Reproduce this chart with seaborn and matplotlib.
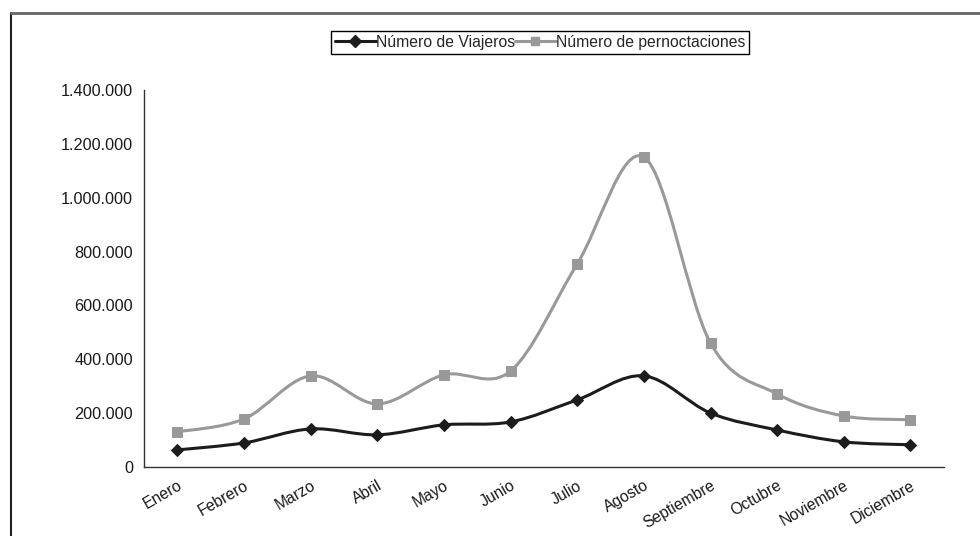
import pandas as pd
import numpy as np
import matplotlib
matplotlib.use("Agg")
import matplotlib.pyplot as plt
import seaborn as sns
from matplotlib.lines import Line2D
from matplotlib.path import Path
from matplotlib.patches import PathPatch
from matplotlib.ticker import FuncFormatter, FixedLocator

# data
meses = ["Enero", "Febrero", "Marzo", "Abril", "Mayo", "Junio", "Julio",
         "Agosto", "Septiembre", "Octubre", "Noviembre", "Diciembre"]
viajeros = [63000, 89000, 141000, 119000, 156000, 167000, 249000,
            338000, 200000, 137000, 93000, 82000]
pernoctaciones = [130000, 178000, 338000, 234000, 342000, 356000, 754000,
                  1151000, 460000, 271000, 189000, 175000]

df = pd.DataFrame({"mes": meses, "pos": range(len(meses)),
                   "viajeros": viajeros, "pernoctaciones": pernoctaciones})

sns.set_style("white")
plt.rcParams["font.family"] = ["Liberation Sans", "DejaVu Sans"]

BLACK = "#1c1c1c"
GRAY = "#999999"


def smooth_path(x, y):
    # excel style smoothed line: cubic bezier through every point
    x = np.asarray(x, float)
    y = np.asarray(y, float)
    px = np.concatenate([[x[0]], x, [x[-1]]])
    py = np.concatenate([[y[0]], y, [y[-1]]])
    verts = [(x[0], y[0])]
    codes = [Path.MOVETO]
    for i in range(1, len(px) - 2):
        c1 = (px[i] + (px[i + 1] - px[i - 1]) / 6, py[i] + (py[i + 1] - py[i - 1]) / 6)
        c2 = (px[i + 1] - (px[i + 2] - px[i]) / 6, py[i + 1] - (py[i + 2] - py[i]) / 6)
        verts += [c1, c2, (px[i + 1], py[i + 1])]
        codes += [Path.CURVE4] * 3
    return Path(verts, codes)


fig, ax = plt.subplots(figsize=(9.8, 5.36), dpi=100)
fig.subplots_adjust(left=0.147, right=0.963, top=0.832, bottom=0.129)

for col, colour, mk, ms in [("pernoctaciones", GRAY, "s", 7),
                            ("viajeros", BLACK, "D", 6.5)]:
    ax.add_patch(PathPatch(smooth_path(df["pos"], df[col]), facecolor="none",
                           edgecolor=colour, lw=2.2, capstyle="round", zorder=2))
    sns.lineplot(data=df, x="pos", y=col, ax=ax, linestyle="none", marker=mk,
                 markersize=ms, color=colour, markeredgecolor=colour, zorder=3)

ax.set_xlim(-0.5, len(meses) - 0.5)
ax.set_ylim(0, 1400000)
ax.set_yticks(np.arange(0, 1400001, 200000))
ax.yaxis.set_major_formatter(FuncFormatter(lambda v, p: f"{v:,.0f}".replace(",", ".")))

# tick marks between categories, labels at the centres
ax.xaxis.set_major_locator(FixedLocator(np.arange(-0.5, len(meses), 1.0)))
ax.xaxis.set_minor_locator(FixedLocator(np.arange(len(meses))))
ax.set_xticklabels([], minor=False)
ax.set_xticklabels(meses, minor=True, rotation=30, ha="right", va="top",
                   rotation_mode="anchor", fontsize=11.3, color="#1a1a1a")
ax.tick_params(axis="x", which="minor", length=0, pad=8)
ax.tick_params(axis="x", which="major", length=5, width=1, color="#333333", direction="out")
ax.tick_params(axis="y", length=5, width=1, color="#333333", direction="out",
               labelsize=11.7, labelcolor="#1a1a1a", pad=3)
ax.set_xlabel("")
ax.set_ylabel("")

for s in ["top", "right"]:
    ax.spines[s].set_visible(False)
for s in ["left", "bottom"]:
    ax.spines[s].set_color("#333333")
    ax.spines[s].set_linewidth(1)

handles = [
    Line2D([0], [0], color=BLACK, lw=2.2, marker="D", markersize=6),
    Line2D([0], [0], color=GRAY, lw=2.2, marker="s", markersize=6),
]
leg = fig.legend(handles, ["Número de Viajeros", "Número de pernoctaciones"],
                 loc="center", bbox_to_anchor=(0.551, 0.921), ncol=2, numpoints=1,
                 frameon=True, fancybox=False, framealpha=1, edgecolor="black",
                 fontsize=11.3, handlelength=2.6, handletextpad=0.0,
                 columnspacing=0.0, borderpad=0.25, borderaxespad=0)
leg.get_frame().set_linewidth(1)

# chart area border (only left and top visible in the reference)
fig.add_artist(Line2D([0.0112, 0.0112], [0, 0.976], transform=fig.transFigure,
                      color="#222222", lw=1.5))
fig.add_artist(Line2D([0.0112, 1.0], [0.976, 0.976], transform=fig.transFigure,
                      color="#666666", lw=2))

fig.savefig("out.png", dpi=100)
